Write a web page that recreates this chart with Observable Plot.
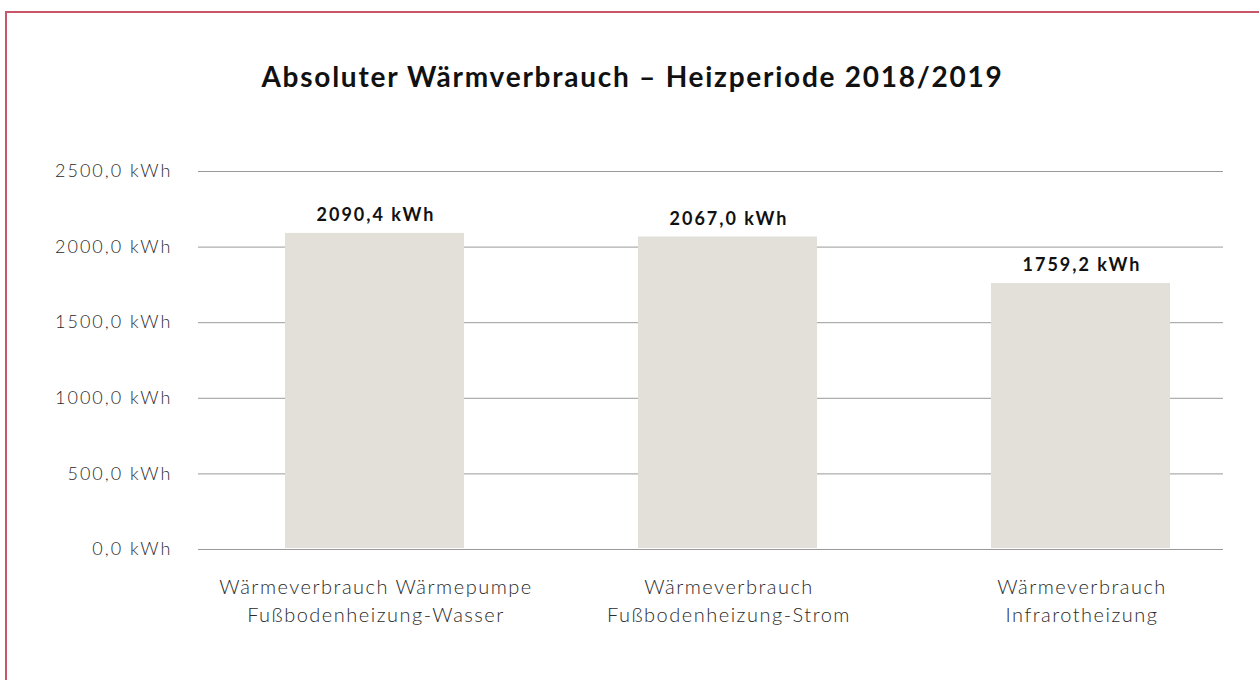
<!DOCTYPE html>
<html>
<head>
<meta charset="utf-8">
<script src="https://cdn.jsdelivr.net/npm/d3@7"></script>
<script src="https://cdn.jsdelivr.net/npm/@observablehq/plot@0.6"></script>
<style>
  html, body { margin: 0; padding: 0; background: #fff; overflow: hidden; }
  #frame { position: absolute; left: 5px; top: 11px; width: 1400px; height: 800px; border: 2px solid #c9576a; box-sizing: border-box; }
  #title { position: absolute; left: 0; top: 59px; width: 1265px; text-align: center; font-family: Lato, "Open Sans", sans-serif; font-weight: 700; font-size: 28px; color: #111; letter-spacing: 1.75px; }
  #chart { position: absolute; left: 0; top: 0; }
  #chart svg g[aria-label="y-axis tick label"] text { letter-spacing: 2px; }
  #chart svg g[aria-label="x-axis tick label"] text { letter-spacing: 1.5px; }
  #chart svg g[aria-label="text"] text { letter-spacing: 2px; }
</style>
</head>
<body>
<div id="frame"></div>
<div id="title">Absoluter Wärmverbrauch – Heizperiode 2018/2019</div>
<div id="chart"></div>
<script>
const categories = [
  "Wärmeverbrauch Wärmepumpe\nFußbodenheizung-Wasser",
  "Wärmeverbrauch\nFußbodenheizung-Strom",
  "Wärmeverbrauch\nInfrarotheizung"
];
const values = [2090.4, 2067.0, 1759.2];
const yTicks = [0, 500, 1000, 1500, 2000, 2500];

const data = categories.map((c, i) => ({category: c, value: values[i]}));
const fmt = v => d3.format(".1f")(v).replace(".", ",") + " kWh";

const chart = Plot.plot({
  width: 1259,
  height: 680,
  marginLeft: 198,
  marginRight: 36,
  marginTop: 171,
  marginBottom: 131,
  style: {fontFamily: "Lato, 'Open Sans', sans-serif", background: "transparent", color: "#333"},
  x: {domain: categories, paddingInner: 0.493, paddingOuter: 0.198, align: 0.62, label: null},
  y: {domain: [0, 2500], label: null},
  marks: [
    Plot.ruleY(yTicks, {stroke: "#9a9a9a", strokeWidth: 1}),
    Plot.barY(data, {x: "category", y: "value", fill: "#e3e0d9", insetBottom: 1}),
    Plot.text(data, {x: "category", y: "value", text: d => fmt(d.value), dy: -18, dx: 1, fontSize: 18, fontWeight: 700, fill: "#111"}),
    Plot.axisY(yTicks, {tickSize: 0, tickPadding: 26, tickFormat: fmt, fontSize: 18, fontWeight: 300, fill: "#2a2a2a", label: null}),
    Plot.axisX({tickSize: 0, tickPadding: 25, dx: 1, fontSize: 20, fontWeight: 300, lineHeight: 1.4, fill: "#2a2a2a", label: null})
  ]
});
document.getElementById("chart").appendChild(chart);
</script>
</body>
</html>
